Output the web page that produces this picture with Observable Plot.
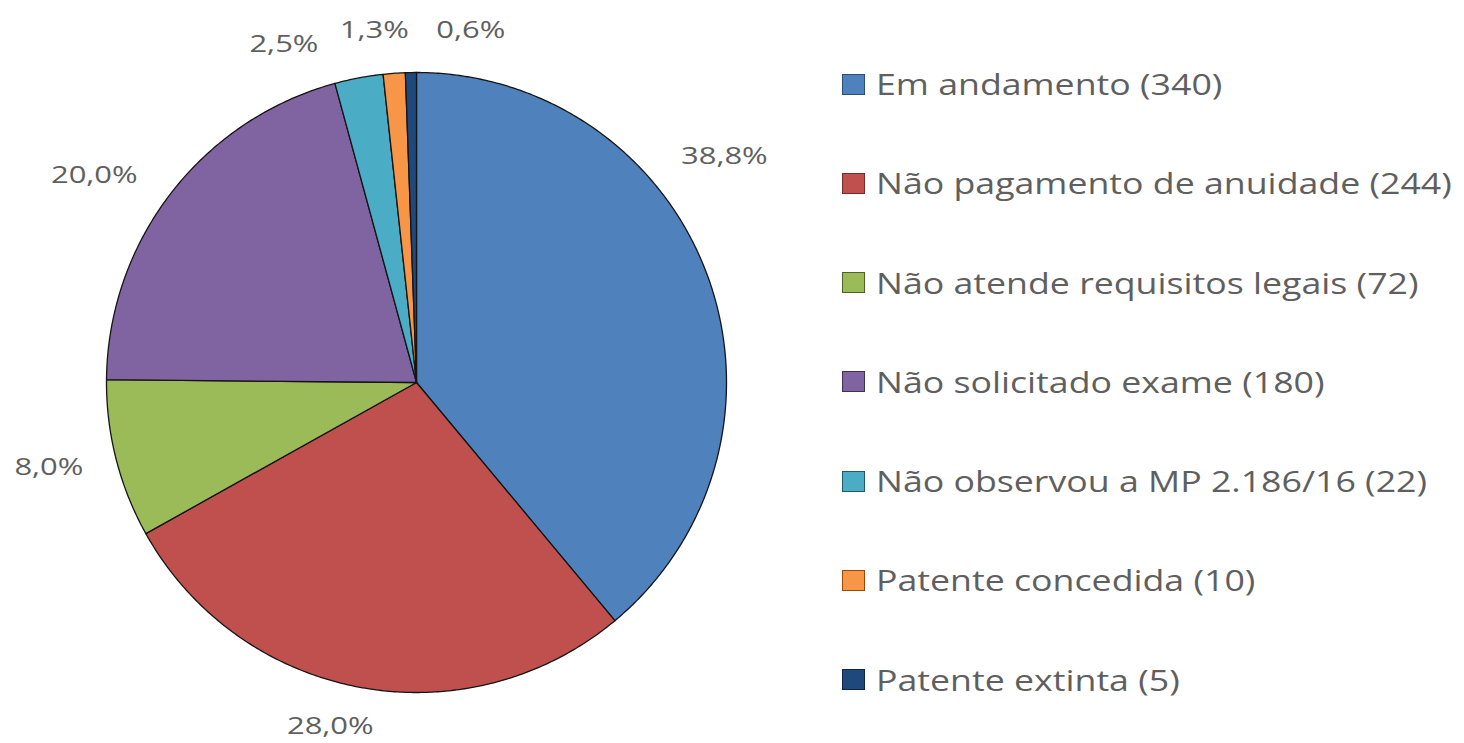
<!DOCTYPE html>
<html>
<head>
<meta charset="utf-8">
<script src="https://cdn.jsdelivr.net/npm/d3@7"></script>
<script src="https://cdn.jsdelivr.net/npm/@observablehq/plot@0.6"></script>
<style>
  html, body { margin: 0; padding: 0; background: #fff; overflow: hidden; }
  #wrap { position: relative; width: 1464px; height: 743px; }
  #chart { position: absolute; left: 0; top: 0; }
  #legend { position: absolute; left: 842px; top: 69px; display: flex; flex-direction: column; gap: 69.3px; }
  .item { display: flex; align-items: center; height: 30px; white-space: nowrap; }
  .sw { width: 21px; height: 19px; border: 1.6px solid; margin-right: 11px; flex: none; }
  .lab { font-family: "Open Sans", sans-serif; font-size: 30px; line-height: 30px; color: #5f5f5f;
         display: inline-block; transform: scaleX(1.19); transform-origin: left center; }
</style>
</head>
<body>
<div id="wrap"><div id="chart"></div><div id="legend"></div></div>
<script>
// ---- data ----
const categories = ["Em andamento", "Não pagamento de anuidade", "Não atende requisitos legais", "Não solicitado exame", "Não observou a MP 2.186/16", "Patente concedida", "Patente extinta"];
const counts = [340, 244, 72, 180, 22, 10, 5];
const percentLabels = ["38,8%", "28,0%", "8,0%", "20,0%", "2,5%", "1,3%", "0,6%"];
const colors = ["#4F81BD", "#C0504D", "#9BBB59", "#8064A2", "#4BACC6", "#F79646", "#1F497D"];
const swatchBorders = ["#2c4d75", "#772c2a", "#4f6228", "#3f3151", "#215968", "#984807", "#0f243e"];

// ---- layout (label placement, as in the original's data-label layout) ----
const labelAngleShift = [-16.4, 3.3, 1.4, -4.9, -10.7, -2.7, 9.8]; // degrees from slice mid-angle

const rows = categories.map((c, i) => ({cat: c, count: counts[i], label: percentLabels[i], i}));
const arcs = d3.pie().sort(null).value(d => d.count)(rows);

// slice outlines in unit-radius data space (x right, y up), angle clockwise from 12 o'clock
const slicePts = [];
for (const a of arcs) {
  const n = Math.max(2, Math.ceil((a.endAngle - a.startAngle) / (Math.PI / 360)));
  slicePts.push({cat: a.data.cat, x: 0, y: 0});
  for (let k = 0; k <= n; k++) {
    const t = a.startAngle + (a.endAngle - a.startAngle) * k / n;
    slicePts.push({cat: a.data.cat, x: Math.sin(t), y: Math.cos(t)});
  }
  slicePts.push({cat: a.data.cat, x: 0, y: 0});
}

const W = 840, H = 743, cx = 416, cy = 382, R = 310;
const labelPts = arcs.map((a, i) => {
  const t = (a.startAngle + a.endAngle) / 2 + labelAngleShift[i] * Math.PI / 180;
  const w = a.data.label.length * 17.4, h = 20;
  const d = (R + 31 + Math.abs(Math.sin(t)) * w / 2 + Math.abs(Math.cos(t)) * h / 2) / R;
  // keep the label inside the drawing area
  const y = Math.max(d * Math.cos(t), -(H - cy - 17) / R);
  return {label: a.data.label, x: d * Math.sin(t), y};
});

const plot = Plot.plot({
  width: W, height: H,
  margin: 0,
  x: {domain: [-cx / R, (W - cx) / R], axis: null},
  y: {domain: [-(H - cy) / R, cy / R], axis: null},
  color: {domain: categories, range: colors},
  style: {fontFamily: "Open Sans", background: "#fff"},
  marks: [
    Plot.line(slicePts, {x: "x", y: "y", z: "cat", fill: "cat", stroke: "#141414", strokeWidth: 1.3, strokeLinejoin: "round", curve: "linear"}),
    Plot.text(labelPts, {x: "x", y: "y", text: "label", fontSize: 24, fill: "#5f5f5f", fontFamily: "Open Sans"})
  ]
});
document.getElementById("chart").appendChild(plot);

// widen percentage labels horizontally to match the original's stretched glyphs
plot.querySelectorAll('g[aria-label="text"] text').forEach(t => {
  const tr = t.getAttribute("transform");
  if (tr) t.setAttribute("transform", tr + " scale(1.29,1)");
  else {
    const x = +t.getAttribute("x") || 0, y = +t.getAttribute("y") || 0;
    t.removeAttribute("x"); t.removeAttribute("y");
    t.setAttribute("transform", `translate(${x},${y}) scale(1.29,1)`);
  }
});

// legend
const legend = document.getElementById("legend");
rows.forEach((r, i) => {
  const it = document.createElement("div");
  it.className = "item";
  const sw = document.createElement("span");
  sw.className = "sw";
  sw.style.background = colors[i];
  sw.style.borderColor = swatchBorders[i];
  const lb = document.createElement("span");
  lb.className = "lab";
  lb.textContent = `${r.cat} (${r.count})`;
  it.appendChild(sw); it.appendChild(lb);
  legend.appendChild(it);
});
</script>
</body>
</html>
